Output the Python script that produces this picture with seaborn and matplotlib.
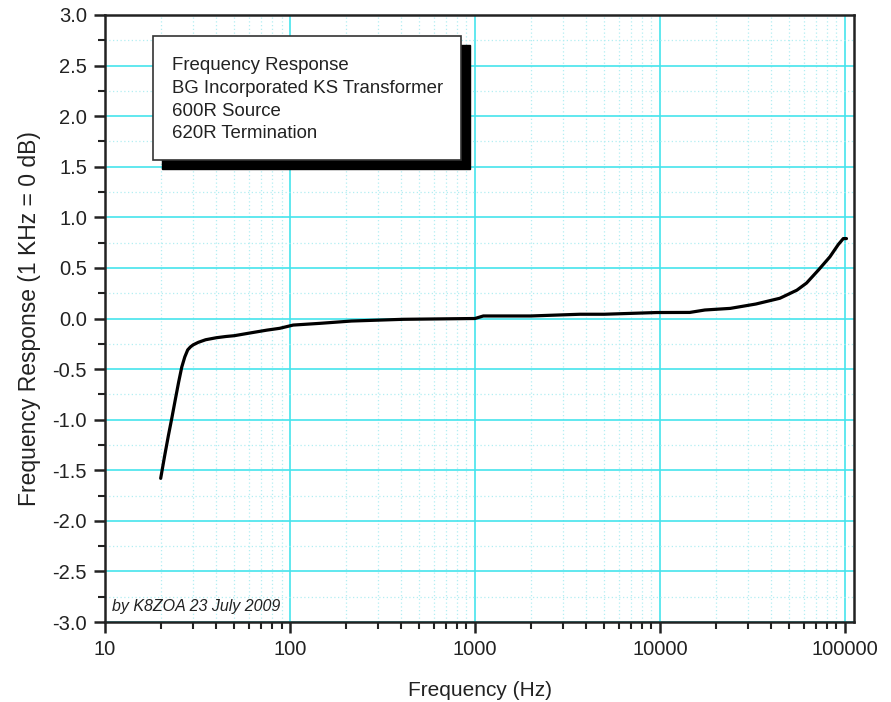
import numpy as np
import pandas as pd
import matplotlib
matplotlib.use("Agg")
import matplotlib.pyplot as plt
import seaborn as sns
from matplotlib.patches import Rectangle
from matplotlib.ticker import LogLocator, MultipleLocator, FixedLocator, NullFormatter

# Measured response, referenced to 1 kHz
freq_hz = [20, 21, 22, 23, 24, 25, 26, 27, 28, 29, 30, 32, 35, 40, 45, 50, 60, 75, 88, 104,
           145, 215, 410, 1000, 1110, 2000, 3700, 5000, 9600, 14500, 17500, 24000, 33000,
           44500, 55000, 62000, 72000, 83000, 92000, 98000, 102000]
response_db = [-1.58, -1.36, -1.16, -0.98, -0.80, -0.63, -0.48, -0.38, -0.31, -0.28, -0.26,
               -0.235, -0.21, -0.19, -0.178, -0.17, -0.145, -0.115, -0.097, -0.065,
               -0.048, -0.025, -0.008, 0.0, 0.025, 0.025, 0.042, 0.042, 0.059, 0.06, 0.084,
               0.10, 0.143, 0.20, 0.28, 0.35, 0.48, 0.61, 0.73, 0.79, 0.79]

x_major = [10, 100, 1000, 10000, 100000]
x_tick_labels = ["10", "100", "1000", "10000", "100000"]
y_major = [-3.0, -2.5, -2.0, -1.5, -1.0, -0.5, 0.0, 0.5, 1.0, 1.5, 2.0, 2.5, 3.0]

info_lines = ["Frequency Response", "BG Incorporated KS Transformer",
              "600R Source", "620R Termination"]
credit = "by K8ZOA 23 July 2009"

sns.set_style("ticks")
plt.rcParams["font.family"] = ["Liberation Sans", "DejaVu Sans"]

fig = plt.figure(figsize=(8.91, 7.02), dpi=100)
ax = fig.add_axes([105 / 891, 1 - 622 / 702, 749 / 891, 607 / 702])

df = pd.DataFrame({"freq": freq_hz, "resp": response_db})
sns.lineplot(data=df, x="freq", y="resp", ax=ax, color="black", linewidth=2.3,
             zorder=5, sort=False)

ax.set_xscale("log")
ax.set_xlim(10, 112000)
ax.set_ylim(-3.0, 3.0)

ax.xaxis.set_major_locator(FixedLocator(x_major))
ax.set_xticklabels(x_tick_labels)
ax.xaxis.set_minor_locator(LogLocator(base=10, subs=np.arange(2, 10)))
ax.xaxis.set_minor_formatter(NullFormatter())
ax.yaxis.set_major_locator(FixedLocator(y_major))
ax.set_yticklabels([f"{v:.1f}" for v in y_major])
ax.yaxis.set_minor_locator(MultipleLocator(0.25))

ax.grid(which="major", color="#45e4ec", linewidth=1.2, linestyle="-")
ax.grid(which="minor", color="#b2eef2", linewidth=0.9, linestyle=(0, (1, 2)))
ax.set_axisbelow(True)

for side in ["left", "right", "top", "bottom"]:
    ax.spines[side].set_visible(True)
    ax.spines[side].set_color("#222222")
    ax.spines[side].set_linewidth(1.8)

ax.tick_params(axis="both", which="major", direction="out", length=8, width=1.8,
               labelsize=14.5, colors="#222222", pad=5)
ax.tick_params(axis="both", which="minor", direction="out", length=5, width=1.5,
               colors="#222222")
ax.tick_params(top=False, right=False, which="both")

ax.set_xlabel("Frequency (Hz)", fontsize=15, color="#222222", labelpad=16)
ax.set_ylabel("Frequency Response (1 KHz = 0 dB)", fontsize=16.5, color="#222222",
              labelpad=8)

# Annotation panel with drop shadow
shadow = Rectangle((0.0761, 0.7463), 0.4112, 0.2043, transform=ax.transAxes,
                   facecolor="black", edgecolor="black", zorder=8)
panel = Rectangle((0.0641, 0.7611), 0.4112, 0.2043, transform=ax.transAxes,
                  facecolor="white", edgecolor="#333333", linewidth=1.2, zorder=9)
ax.add_patch(shadow)
ax.add_patch(panel)
for i, line in enumerate(info_lines):
    ax.text(0.089, 0.9165 - i * 0.0375, line, transform=ax.transAxes, fontsize=13.4,
            va="center", ha="left", color="#222222", zorder=10)

ax.text(0.009, 0.025, credit, transform=ax.transAxes, fontsize=11.5, style="italic",
        va="center", ha="left", color="#222222", zorder=10)

fig.savefig("out.png", dpi=100)
